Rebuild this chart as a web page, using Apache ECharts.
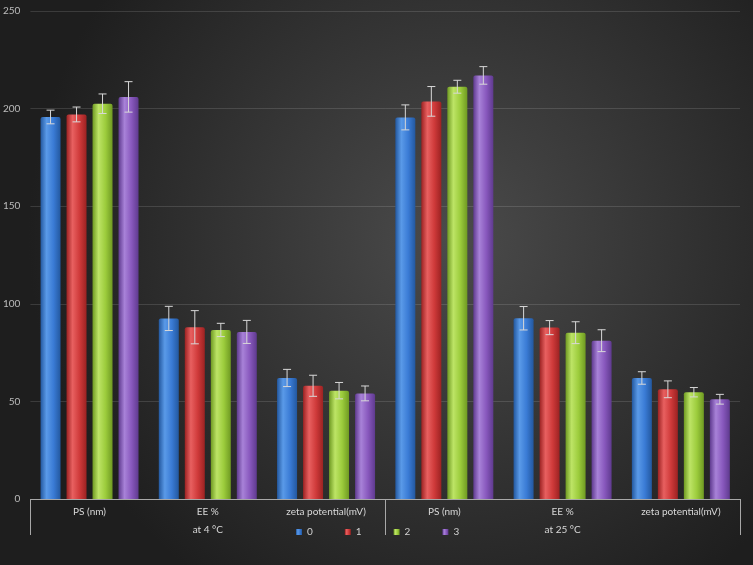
<!DOCTYPE html>
<html>
<head>
<meta charset="utf-8">
<script src="https://cdn.jsdelivr.net/npm/echarts@6/dist/echarts.min.js"></script>
<style>
  html, body { margin: 0; padding: 0; background: #2b2b2b; }
  #chart { width: 753px; height: 565px; }
</style>
</head>
<body>
<div id="chart"></div>
<script>
// categories
var categories = ['PS (nm)', 'EE %', 'zeta potential(mV)', 'PS (nm)', 'EE %', 'zeta potential(mV)']
var groups = ['at 4 °C', 'at 25 °C']
var seriesNames = ['0', '1', '2', '3']

// mean values per series (one entry per category)
var values0 = [195.7, 92.5, 62.0, 195.5, 92.6, 62.0]
var values1 = [197.0, 88.0, 58.0, 203.7, 87.8, 56.2]
var values2 = [202.5, 86.6, 55.5, 211.2, 85.2, 54.7]
var values3 = [206.0, 85.6, 54.1, 217.0, 81.1, 51.1]

// error (+/-) per series
var errors0 = [3.5, 6.2, 4.4, 6.4, 6.0, 3.2]
var errors1 = [3.8, 8.5, 5.4, 7.6, 3.6, 4.3]
var errors2 = [5.0, 3.4, 4.2, 3.3, 5.6, 2.4]
var errors3 = [7.8, 5.9, 3.8, 4.5, 5.6, 2.5]

var yTicks = { min: 0, max: 250, interval: 50 }

var allValues = [values0, values1, values2, values3]
var allErrors = [errors0, errors1, errors2, errors3]

// colours: [edge, light, base]
var palette = [
  ['#23589f', '#5a9ae8', '#3a7bd5'],
  ['#9c2222', '#e86060', '#cf3a3a'],
  ['#6f9a22', '#bde466', '#9ccc3c'],
  ['#5f3a8f', '#a882d8', '#8858bd']
]

var barWidth = 20
var barStep = 26 // bar width + gap

function barColor(c) {
  return new echarts.graphic.LinearGradient(0, 0, 1, 0, [
    { offset: 0, color: c[0] },
    { offset: 0.3, color: c[1] },
    { offset: 0.65, color: c[2] },
    { offset: 1, color: c[0] }
  ])
}

var errData = []
allValues.forEach(function(vals, s) {
  vals.forEach(function(v, i) {
    errData.push([i, v - allErrors[s][i], v + allErrors[s][i], s])
  })
})

var series = seriesNames.map(function(name, s) {
  return {
    name: name,
    type: 'bar',
    barWidth: barWidth,
    barGap: '30%',
    data: allValues[s],
    itemStyle: {
      color: barColor(palette[s]),
      borderRadius: [2, 2, 0, 0]
    }
  }
})

// error bars drawn on top of the bars
series.push({
  type: 'custom',
  name: 'err',
  data: errData,
  encode: { x: 0, y: [1, 2] },
  z: 10,
  silent: true,
  renderItem: function(params, api) {
    var cat = api.value(0)
    var s = api.value(3)
    var lo = api.coord([cat, api.value(1)])
    var hi = api.coord([cat, api.value(2)])
    var x = lo[0] + (s - 1.5) * barStep
    var cap = 4
    var style = { stroke: '#d8d8d8', lineWidth: 1 }
    return {
      type: 'group',
      children: [
        { type: 'line', shape: { x1: x, y1: hi[1], x2: x, y2: lo[1] }, style: style },
        { type: 'line', shape: { x1: x - cap, y1: hi[1], x2: x + cap, y2: hi[1] }, style: style },
        { type: 'line', shape: { x1: x - cap, y1: lo[1], x2: x + cap, y2: lo[1] }, style: style }
      ]
    }
  }
})

var chart = echarts.init(document.getElementById('chart'))
chart.setOption({
  backgroundColor: new echarts.graphic.RadialGradient(0.6, 0.42, 0.75, [
    { offset: 0, color: '#4b4b4b' },
    { offset: 1, color: '#1e1e1e' }
  ]),
  textStyle: { fontFamily: 'Lato' },
  animation: false,
  grid: { left: 30, right: 13, top: 11, bottom: 66 },
  legend: {
    data: seriesNames,
    left: 291,
    top: 522,
    icon: 'rect',
    itemWidth: 6,
    itemHeight: 6,
    itemGap: 32,
    textStyle: { color: '#d0d0d0', fontSize: 10 }
  },
  xAxis: [
    {
      type: 'category',
      data: categories,
      axisLine: { lineStyle: { color: '#a8a8a8' } },
      axisTick: { show: false },
      axisLabel: { color: '#d8d8d8', fontSize: 10, margin: 8, interval: 0 }
    },
    {
      type: 'category',
      data: groups,
      position: 'bottom',
      axisLine: { show: false },
      axisTick: { show: true, length: 36, lineStyle: { color: '#a8a8a8' } },
      axisLabel: { color: '#d8d8d8', fontSize: 10, margin: 26 },
      splitLine: { show: false }
    }
  ],
  yAxis: {
    type: 'value',
    min: yTicks.min,
    max: yTicks.max,
    interval: yTicks.interval,
    axisLine: { show: false },
    axisTick: { show: false },
    axisLabel: { color: '#bcbcbc', fontSize: 10, margin: 10 },
    splitLine: { lineStyle: { color: 'rgba(255,255,255,0.13)' } }
  },
  series: series
})
</script>
</body>
</html>
